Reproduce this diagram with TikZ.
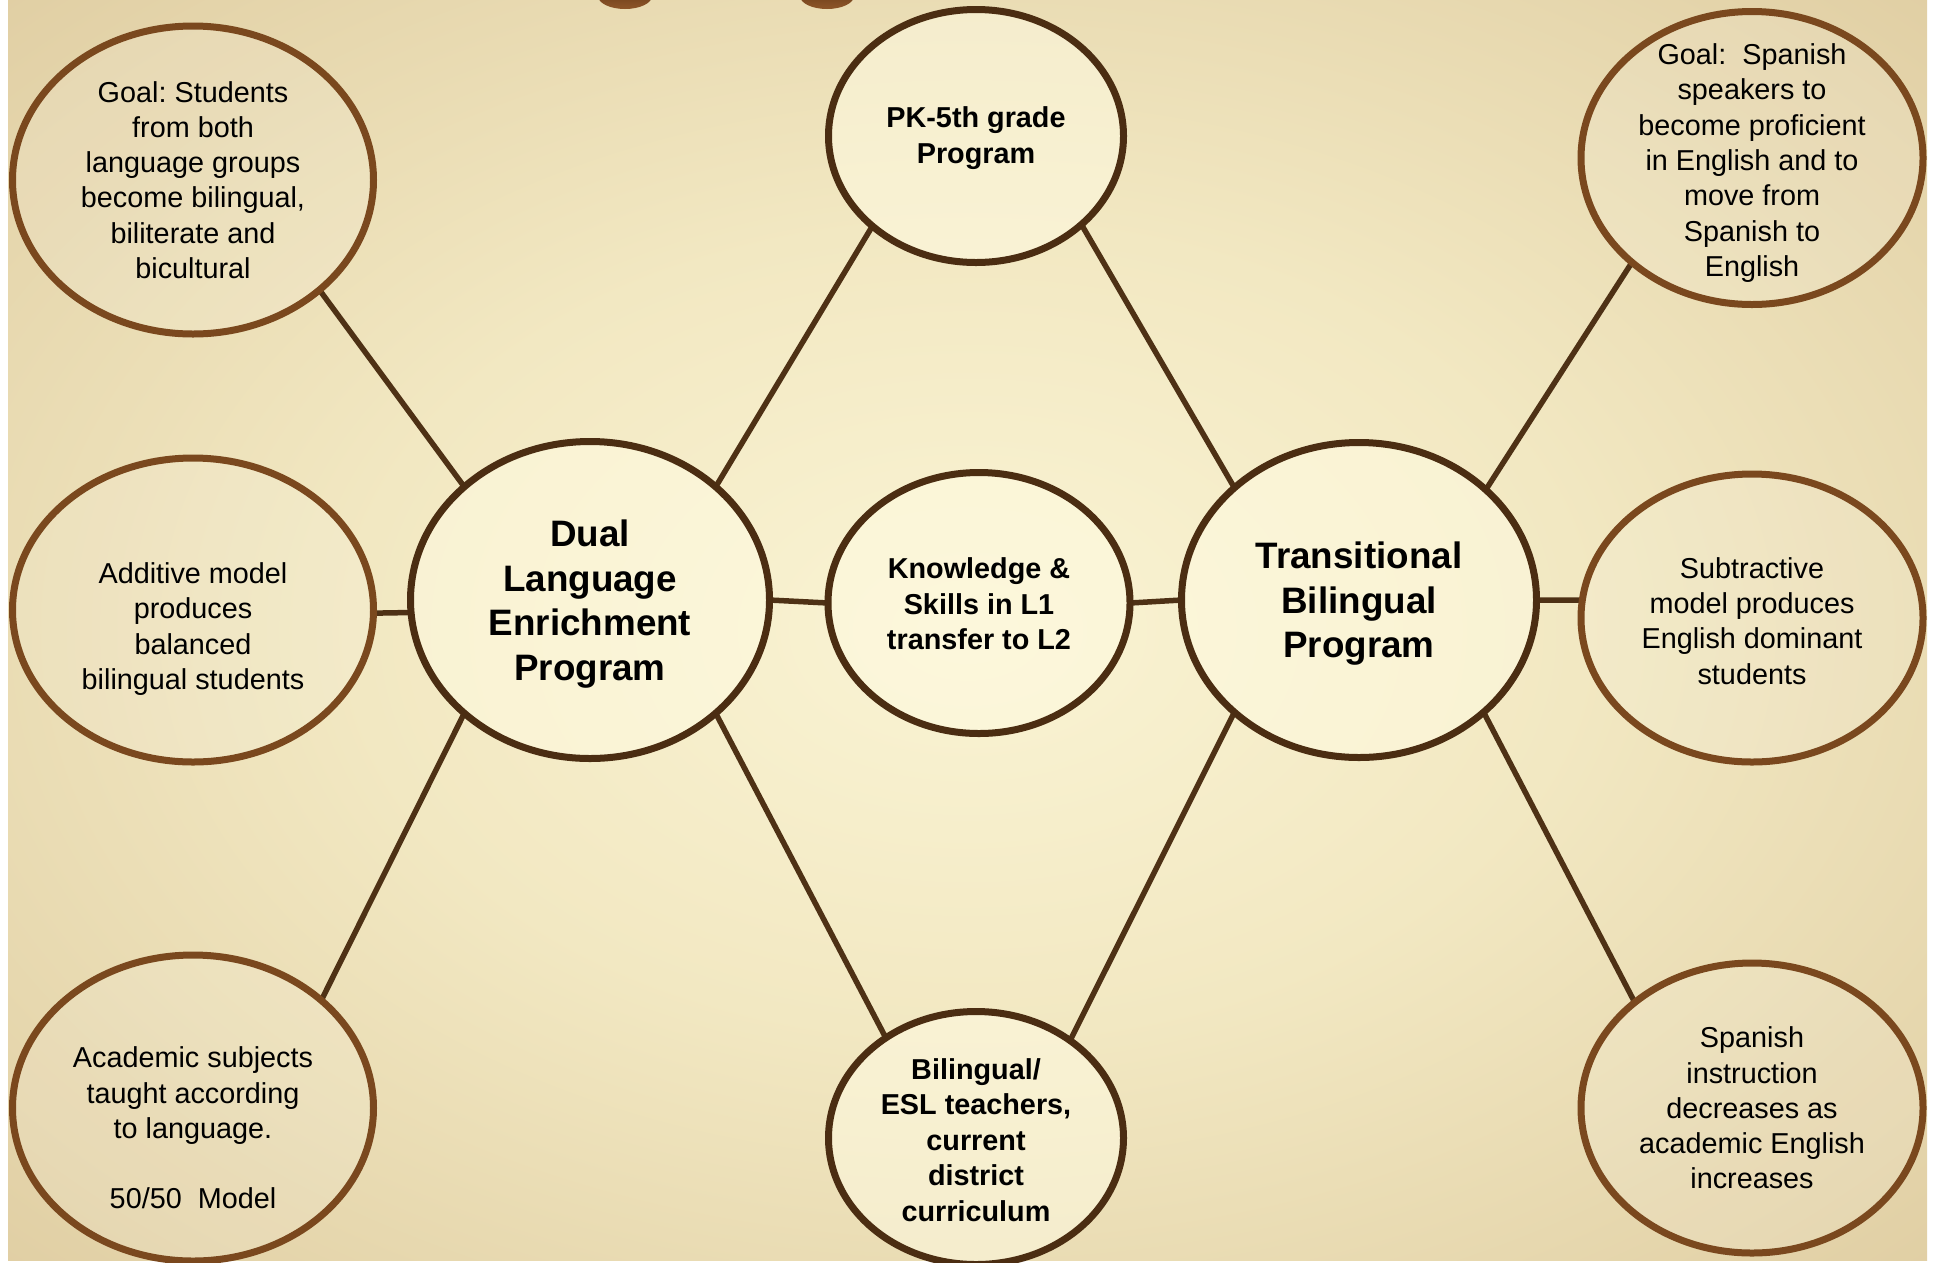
\documentclass[tikz,border=0pt]{standalone}
\usepackage{fontspec}
\setmainfont{Liberation Sans}
\frenchspacing
\usetikzlibrary{shapes.geometric}
\definecolor{bgA}{HTML}{FAF4D4}
\definecolor{bgB}{HTML}{F2E8C2}
\definecolor{bgC}{HTML}{D9C497}
\definecolor{bgD}{HTML}{C09F68}
\definecolor{outerline}{HTML}{7A481E}
\definecolor{innerline}{HTML}{4B2D12}
\definecolor{connline}{HTML}{4E3115}
\definecolor{innerfill}{HTML}{FFFBE2}
\definecolor{blobtop}{HTML}{5E3312}
\definecolor{blobbot}{HTML}{8E5629}
\pgfdeclareradialshading{bgshade}{\pgfpoint{0bp}{0bp}}{color(0bp)=(bgA); color(16bp)=(bgB); color(44bp)=(bgC); color(72bp)=(bgD)}
\pgfdeclarelayer{back}
\pgfdeclarelayer{lines}
\pgfsetlayers{back,lines,main}
\tikzset{
  outerell/.style={ellipse, draw=outerline, line width=7pt, fill=white, fill opacity=0.12, inner sep=0pt, outer sep=0pt},
  innerell/.style={ellipse, draw=innerline, line width=7pt, fill=innerfill, fill opacity=0.55, inner sep=0pt, outer sep=0pt},
  conn/.style={draw=connline, line width=5.5pt},
  blob/.style={top color=blobtop, bottom color=blobbot},
  smalltxt/.style={align=center, font=\fontsize{28.8}{35.3}\selectfont, text=black},
  boldtxt/.style={align=center, font=\bfseries\fontsize{28.8}{35.5}\selectfont, text=black},
  bigtxt/.style={align=center, font=\bfseries\fontsize{36.8}{44.5}\selectfont, text=black}
}
\begin{document}
\begin{tikzpicture}[x=1pt,y=-1pt]
\useasboundingbox (0,0) rectangle (1937,1262);
\begin{pgfonlayer}{back}
\fill[white] (0,0) rectangle (1937,1262);
\shade[shading=bgshade] (8,0) rectangle (1927,1260);
\shade[blob] (625,-4) ellipse [x radius=27, y radius=13];
\shade[blob] (827,-4) ellipse [x radius=27, y radius=13];
\end{pgfonlayer}

% outer ellipses
\node[outerell, minimum width=361pt, minimum height=308pt] (LT) at (193,180) {};
\node[outerell, minimum width=361pt, minimum height=304pt] (LM) at (193,610) {};
\node[outerell, minimum width=361pt, minimum height=306pt] (LB) at (193,1108) {};
\node[outerell, minimum width=342pt, minimum height=293pt] (RT) at (1752,158) {};
\node[outerell, minimum width=342pt, minimum height=288pt] (RM) at (1752,618) {};
\node[outerell, minimum width=342pt, minimum height=290pt] (RB) at (1752,1108) {};
% inner ellipses
\node[innerell, minimum width=359pt, minimum height=317pt] (D) at (590,600) {};
\node[innerell, minimum width=355pt, minimum height=315pt] (T) at (1359,600) {};
\node[innerell, minimum width=295pt, minimum height=253pt] (P) at (976,136) {};
\node[innerell, minimum width=302pt, minimum height=261pt] (K) at (979,603) {};
\node[innerell, minimum width=295pt, minimum height=253pt] (B) at (976,1138) {};

% texts
\node[smalltxt] (LTt) at (193,180) {Goal: Students\\from both\\language groups\\become bilingual,\\biliterate and\\bicultural};
\node[smalltxt] (LMt) at (193,629) {Additive model\\produces\\balanced\\bilingual students};
\node[smalltxt] (LBt) at (193,1128) {Academic subjects\\taught according\\to language.\\[35.3pt]50/50~~Model};
\node[smalltxt] (RTt) at (1752,163) {Goal:~~Spanish\\speakers to\\become proficient\\in English and to\\move from\\Spanish to\\English};
\node[smalltxt] (RMt) at (1752,621) {Subtractive\\model produces\\English dominant\\students};
\node[smalltxt] (RBt) at (1752,1108) {Spanish\\instruction\\decreases as\\academic English\\increases};
\node[bigtxt] (Dt) at (590,604) {Dual\\Language\\Enrichment\\Program};
\node[bigtxt] (Tt) at (1359,604) {Transitional\\Bilingual\\Program};
\node[boldtxt] (Pt) at (976,138) {PK-5th grade\\Program};
\node[boldtxt] (Kt) at (979,604) {Knowledge \&\\Skills in L1\\transfer to L2};
\node[boldtxt] (Bt) at (976,1140) {Bilingual/\\ESL teachers,\\current\\district\\curriculum};

% connectors
\begin{pgfonlayer}{lines}
\draw[conn] (LT.-41) -- (D.138);
\draw[conn] (LM.-1) -- (D.184);
\draw[conn] (LB.40) -- (D.222);
\draw[conn] (D.42) -- (P.221);
\draw[conn] (D.0) -- (K.180);
\draw[conn] (D.-42) -- (B.132);
\draw[conn] (K.0) -- (T.180);
\draw[conn] (P.-40) -- (T.138);
\draw[conn] (B.46) -- (T.222);
\draw[conn] (T.41) -- (RT.221);
\draw[conn] (T.0) -- (RM.174);
\draw[conn] (T.-42) -- (RB.138);
\end{pgfonlayer}
\end{tikzpicture}
\end{document}
